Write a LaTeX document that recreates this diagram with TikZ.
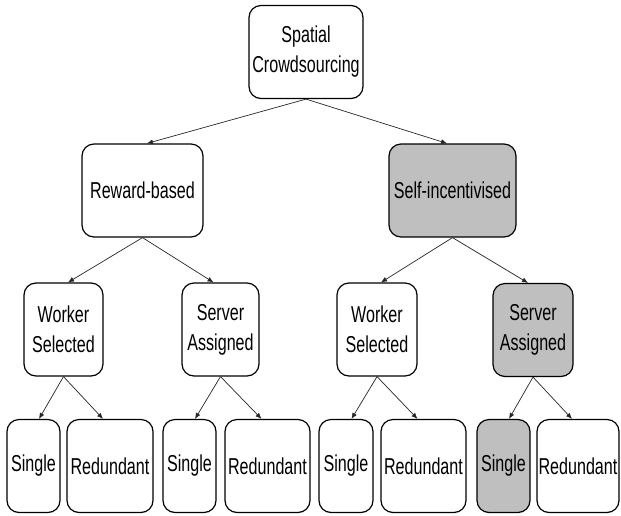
\documentclass[tikz,border=0pt]{standalone}
\usepackage{fontspec}
\setmainfont{Liberation Sans}
\newfontfamily\boxfont[FakeStretch=0.7]{Liberation Sans}
\usetikzlibrary{arrows.meta}

\begin{document}
\begin{tikzpicture}[x=1pt,y=-1pt,
  box/.style={draw, line width=1.2pt, rounded corners=12pt, align=center,
    inner sep=0pt, minimum height=93pt, font=\boxfont\fontsize{23}{30}\selectfont},
  shaded/.style={box, fill=black!25},
  arr/.style={draw=black!85, line width=0.7pt, -{Latex[length=6pt,width=5pt]}}]
\useasboundingbox (0,0) rectangle (621,515);

\node (sc) at (306,52) [box, minimum width=114pt] {Spatial\\Crowdsourcing};

\node (rb) at (142.5,190.5) [box, minimum width=121pt] {Reward-based};
\node (si) at (452.5,190.5) [shaded, minimum width=127pt] {Self-incentivised};

\node (ws1) at (63.5,329.5) [box, minimum width=79pt] {Worker\\Selected};
\node (sa1) at (220.5,329.5) [box, minimum width=77pt] {Server\\Assigned};
\node (ws2) at (377,329.5) [box, minimum width=80pt] {Worker\\Selected};
\node (sa2) at (533,330) [shaded, minimum width=80pt] {Server\\Assigned};

\node (s1) at (33.5,466) [box, minimum width=53pt] {Single};
\node (r1) at (110,466) [box, minimum width=86pt] {Redundant};
\node (s2) at (189.5,466) [box, minimum width=53pt] {Single};
\node (r2) at (267.5,466) [box, minimum width=85pt] {Redundant};
\node (s3) at (346,466) [box, minimum width=54pt] {Single};
\node (r3) at (423.5,466) [box, minimum width=85pt] {Redundant};
\node (s4) at (503.5,466) [shaded, minimum width=53pt] {Single};
\node (r4) at (578,466) [box, minimum width=82pt] {Redundant};

\draw[arr] (sc.south) -- ([xshift=4.5pt]rb.north);
\draw[arr] (sc.south) -- ([xshift=-5.5pt]si.north);
\draw[arr] (rb.south) -- ([xshift=4.5pt]ws1.north);
\draw[arr] (rb.south) -- ([xshift=-7pt]sa1.north);
\draw[arr] (si.south) -- ([xshift=4pt]ws2.north);
\draw[arr] (si.south) -- ([xshift=-5pt]sa2.north);
\draw[arr] (ws1.south) -- ([xshift=5.5pt]s1.north);
\draw[arr] (ws1.south) -- ([xshift=-7pt]r1.north);
\draw[arr] (sa1.south) -- ([xshift=5.5pt]s2.north);
\draw[arr] (sa1.south) -- ([xshift=-6pt]r2.north);
\draw[arr] (ws2.south) -- ([xshift=5.5pt]s3.north);
\draw[arr] (ws2.south) -- ([xshift=-6pt]r3.north);
\draw[arr] (sa2.south) -- ([xshift=5.5pt]s4.north);
\draw[arr] (sa2.south) -- ([xshift=-6pt]r4.north);
\end{tikzpicture}
\end{document}
